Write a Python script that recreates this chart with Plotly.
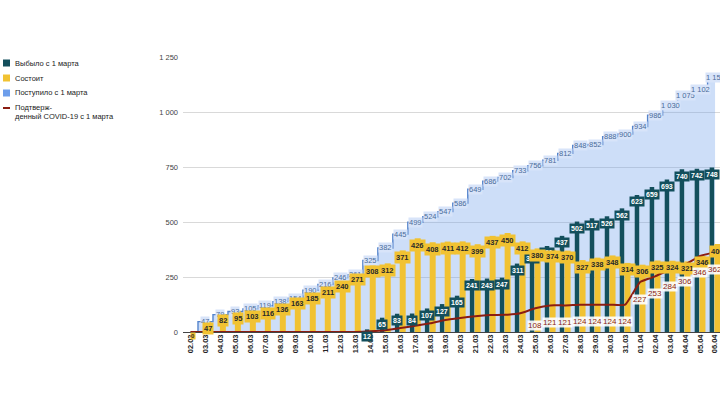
import plotly.graph_objects as go

# ---------------- data ----------------
dates = ["02.03", "03.03", "04.03", "05.03", "06.03", "07.03", "08.03", "09.03",
         "10.03", "11.03", "12.03", "13.03", "14.03", "15.03", "16.03", "17.03",
         "18.03", "19.03", "20.03", "21.03", "22.03", "23.03", "24.03", "25.03",
         "26.03", "27.03", "28.03", "29.03", "30.03", "31.03", "01.04", "02.04",
         "03.04", "04.04", "05.04", "06.04"]

discharged = [0, 0, 0, 0, 0, 0, 0, 0, 0, 0, 0, 0,
              12, 65, 83, 84, 107, 127, 165, 241, 243, 247, 311, 366,
              391, 437, 502, 517, 526, 562, 623, 659, 693, 740, 742, 748]

current = [0, 47, 82, 95, 103, 116, 136, 163, 185, 211, 240, 271,
           308, 312, 371, 426, 408, 411, 412, 399, 437, 450, 412, 380,
           374, 370, 327, 338, 348, 314, 306, 325, 324, 321, 346, 400]

admitted = [0, 47, 79, 93, 105, 119, 138, 154, 190, 216, 246, 261,
            325, 382, 445, 499, 524, 547, 586, 649, 686, 702, 733, 756,
            781, 812, 848, 852, 888, 900, 934, 986, 1030, 1075, 1102, 1158]

covid = [0, 0, 0, 0, 0, 0, 0, 0, 0, 0, 0, 0,
         3, 8, 18, 28, 40, 55, 64, 72, 77, 78, 85, 108,
         121, 121, 124, 124, 124, 124, 227, 253, 284, 306, 346, 362]

names = ["Выбыло с 1 марта", "Состоит", "Поступило с 1 марта",
         "Подтверж-", "денный COVID-19 с 1 марта"]
y_ticks = [0, 250, 500, 750, 1000, 1250]

# ---------------- style ----------------
TEAL = "#134f5c"
YELLOW = "#f1c232"
BLUE = "#6d9eeb"
BLUE_LINE = "#5584cc"
BLUE_FILL = "rgba(109,158,235,0.34)"
BLUE_TEXT = "#4a6c9b"
RED = "#8b1d12"
FONT = "Liberation Sans, Arial, sans-serif"

W, H = 720, 409
ML, MR, MT, MB = 183, 0, 57, 77
PW, PH = W - ML - MR, H - MT - MB
x_range = [-0.5, 35.33]
y_range = [0, 1250]

T_W, T_OFF = 0.30, -0.36
Y_W, Y_OFF = 0.40, -0.04
BUBBLE_SHIFT = -7


def fmt(v):
    return f"{v:,}".replace(",", " ")


fig = go.Figure()

fig.add_trace(go.Scatter(
    x=dates, y=admitted, name=names[2], mode="lines",
    line=dict(shape="hvh", color=BLUE_LINE, width=1.4),
    fill="tozeroy", fillcolor=BLUE_FILL,
    xaxis="x", yaxis="y", showlegend=False, hoverinfo="skip"))

fig.add_trace(go.Bar(
    x=dates, y=discharged, name=names[0], width=T_W, offset=T_OFF,
    marker=dict(color=TEAL, line=dict(width=0)),
    xaxis="x2", yaxis="y2", showlegend=False))

fig.add_trace(go.Bar(
    x=dates, y=current, name=names[1], width=Y_W, offset=Y_OFF,
    marker=dict(color=YELLOW, line=dict(width=0)),
    xaxis="x2", yaxis="y2", showlegend=False))

fig.add_trace(go.Scatter(
    x=dates, y=covid, name=names[3] + names[4], mode="lines",
    line=dict(color=RED, width=2, shape="spline", smoothing=0.4),
    xaxis="x2", yaxis="y2", showlegend=False))

ann = []
# blue step-area labels
for i, v in enumerate(admitted):
    if v > 0:
        ann.append(dict(x=i, y=v, xref="x", yref="y", text=fmt(v),
                        showarrow=False, font=dict(family=FONT, size=7.5, color=BLUE_TEXT),
                        bgcolor="#d8e4f9", borderpad=0))
# teal bubbles
for i, v in enumerate(discharged):
    if v > 0:
        ann.append(dict(x=i + T_OFF + T_W / 2, y=v, xref="x", yref="y", text=fmt(v),
                        yshift=BUBBLE_SHIFT, showarrow=False,
                        font=dict(family=FONT, size=7, color="white", weight="bold"),
                        bgcolor=TEAL, borderpad=1))
# yellow bubbles
for i, v in enumerate(current):
    ann.append(dict(x=i + Y_OFF + Y_W / 2, y=v, xref="x", yref="y", text=fmt(v),
                    yshift=BUBBLE_SHIFT if v > 0 else -4, showarrow=False,
                    font=dict(family=FONT, size=7.5 if v > 0 else 6, color="#2a2a2a",
                              weight="bold"),
                    bgcolor=YELLOW, borderpad=1 if v > 0 else 0))
# red line labels
for i, v in enumerate(covid):
    if v >= 100:
        ann.append(dict(x=i, y=v, xref="x", yref="y", text=fmt(v),
                        yshift=-17, showarrow=False,
                        font=dict(family=FONT, size=8, color=RED),
                        bgcolor="rgba(255,255,255,0.9)", borderpad=0))


# manual legend (pixel -> paper)
def px(xp):
    return (xp - ML) / PW


def py(yp):
    return (MT + PH - yp) / PH


LEG_FONT = dict(family=FONT, size=7.5, color="#1a1a1a")
shapes = []
leg_rows = [(63, TEAL, names[0]), (78, YELLOW, names[1]), (93, BLUE, names[2])]
for yc, col, txt in leg_rows:
    shapes.append(dict(type="rect", xref="paper", yref="paper",
                       x0=px(3), x1=px(10), y0=py(yc + 3.5), y1=py(yc - 3.5),
                       fillcolor=col, line=dict(width=0)))
    ann.append(dict(x=px(13), y=py(yc), xref="paper", yref="paper", text=txt,
                    xanchor="left", yanchor="middle", showarrow=False, font=LEG_FONT))
shapes.append(dict(type="line", xref="paper", yref="paper",
                   x0=px(3), x1=px(10), y0=py(108), y1=py(108),
                   line=dict(color=RED, width=2)))
ann.append(dict(x=px(13), y=py(107.5), xref="paper", yref="paper", text=names[3],
                xanchor="left", yanchor="middle", showarrow=False, font=LEG_FONT))
ann.append(dict(x=px(13), y=py(116.5), xref="paper", yref="paper", text=names[4],
                xanchor="left", yanchor="middle", showarrow=False, font=LEG_FONT))

fig.update_layout(
    width=W, height=H,
    margin=dict(l=ML, r=MR, t=MT, b=MB, pad=0),
    paper_bgcolor="white", plot_bgcolor="white",
    barmode="overlay",
    separators=". ",
    showlegend=False,
    font=dict(family=FONT),
    xaxis=dict(type="category", range=x_range, tickangle=-90,
               tickfont=dict(family=FONT, size=7.5, color="#222", weight="bold"),
               showgrid=False, showline=False, ticks="", zeroline=False,
               fixedrange=True),
    xaxis2=dict(type="category", range=x_range, overlaying="x", visible=False),
    yaxis=dict(range=y_range, tickvals=y_ticks, tickformat=",d",
               tickfont=dict(family=FONT, size=7.5, color="#444"),
               showgrid=True, gridcolor="#d9d9d9", gridwidth=1,
               zeroline=True, zerolinecolor="#444", zerolinewidth=1,
               showline=False, ticks="", ticklabelstandoff=4),
    yaxis2=dict(range=y_range, overlaying="y", visible=False),
    annotations=ann,
    shapes=shapes,
)

fig.write_html("out.html")
